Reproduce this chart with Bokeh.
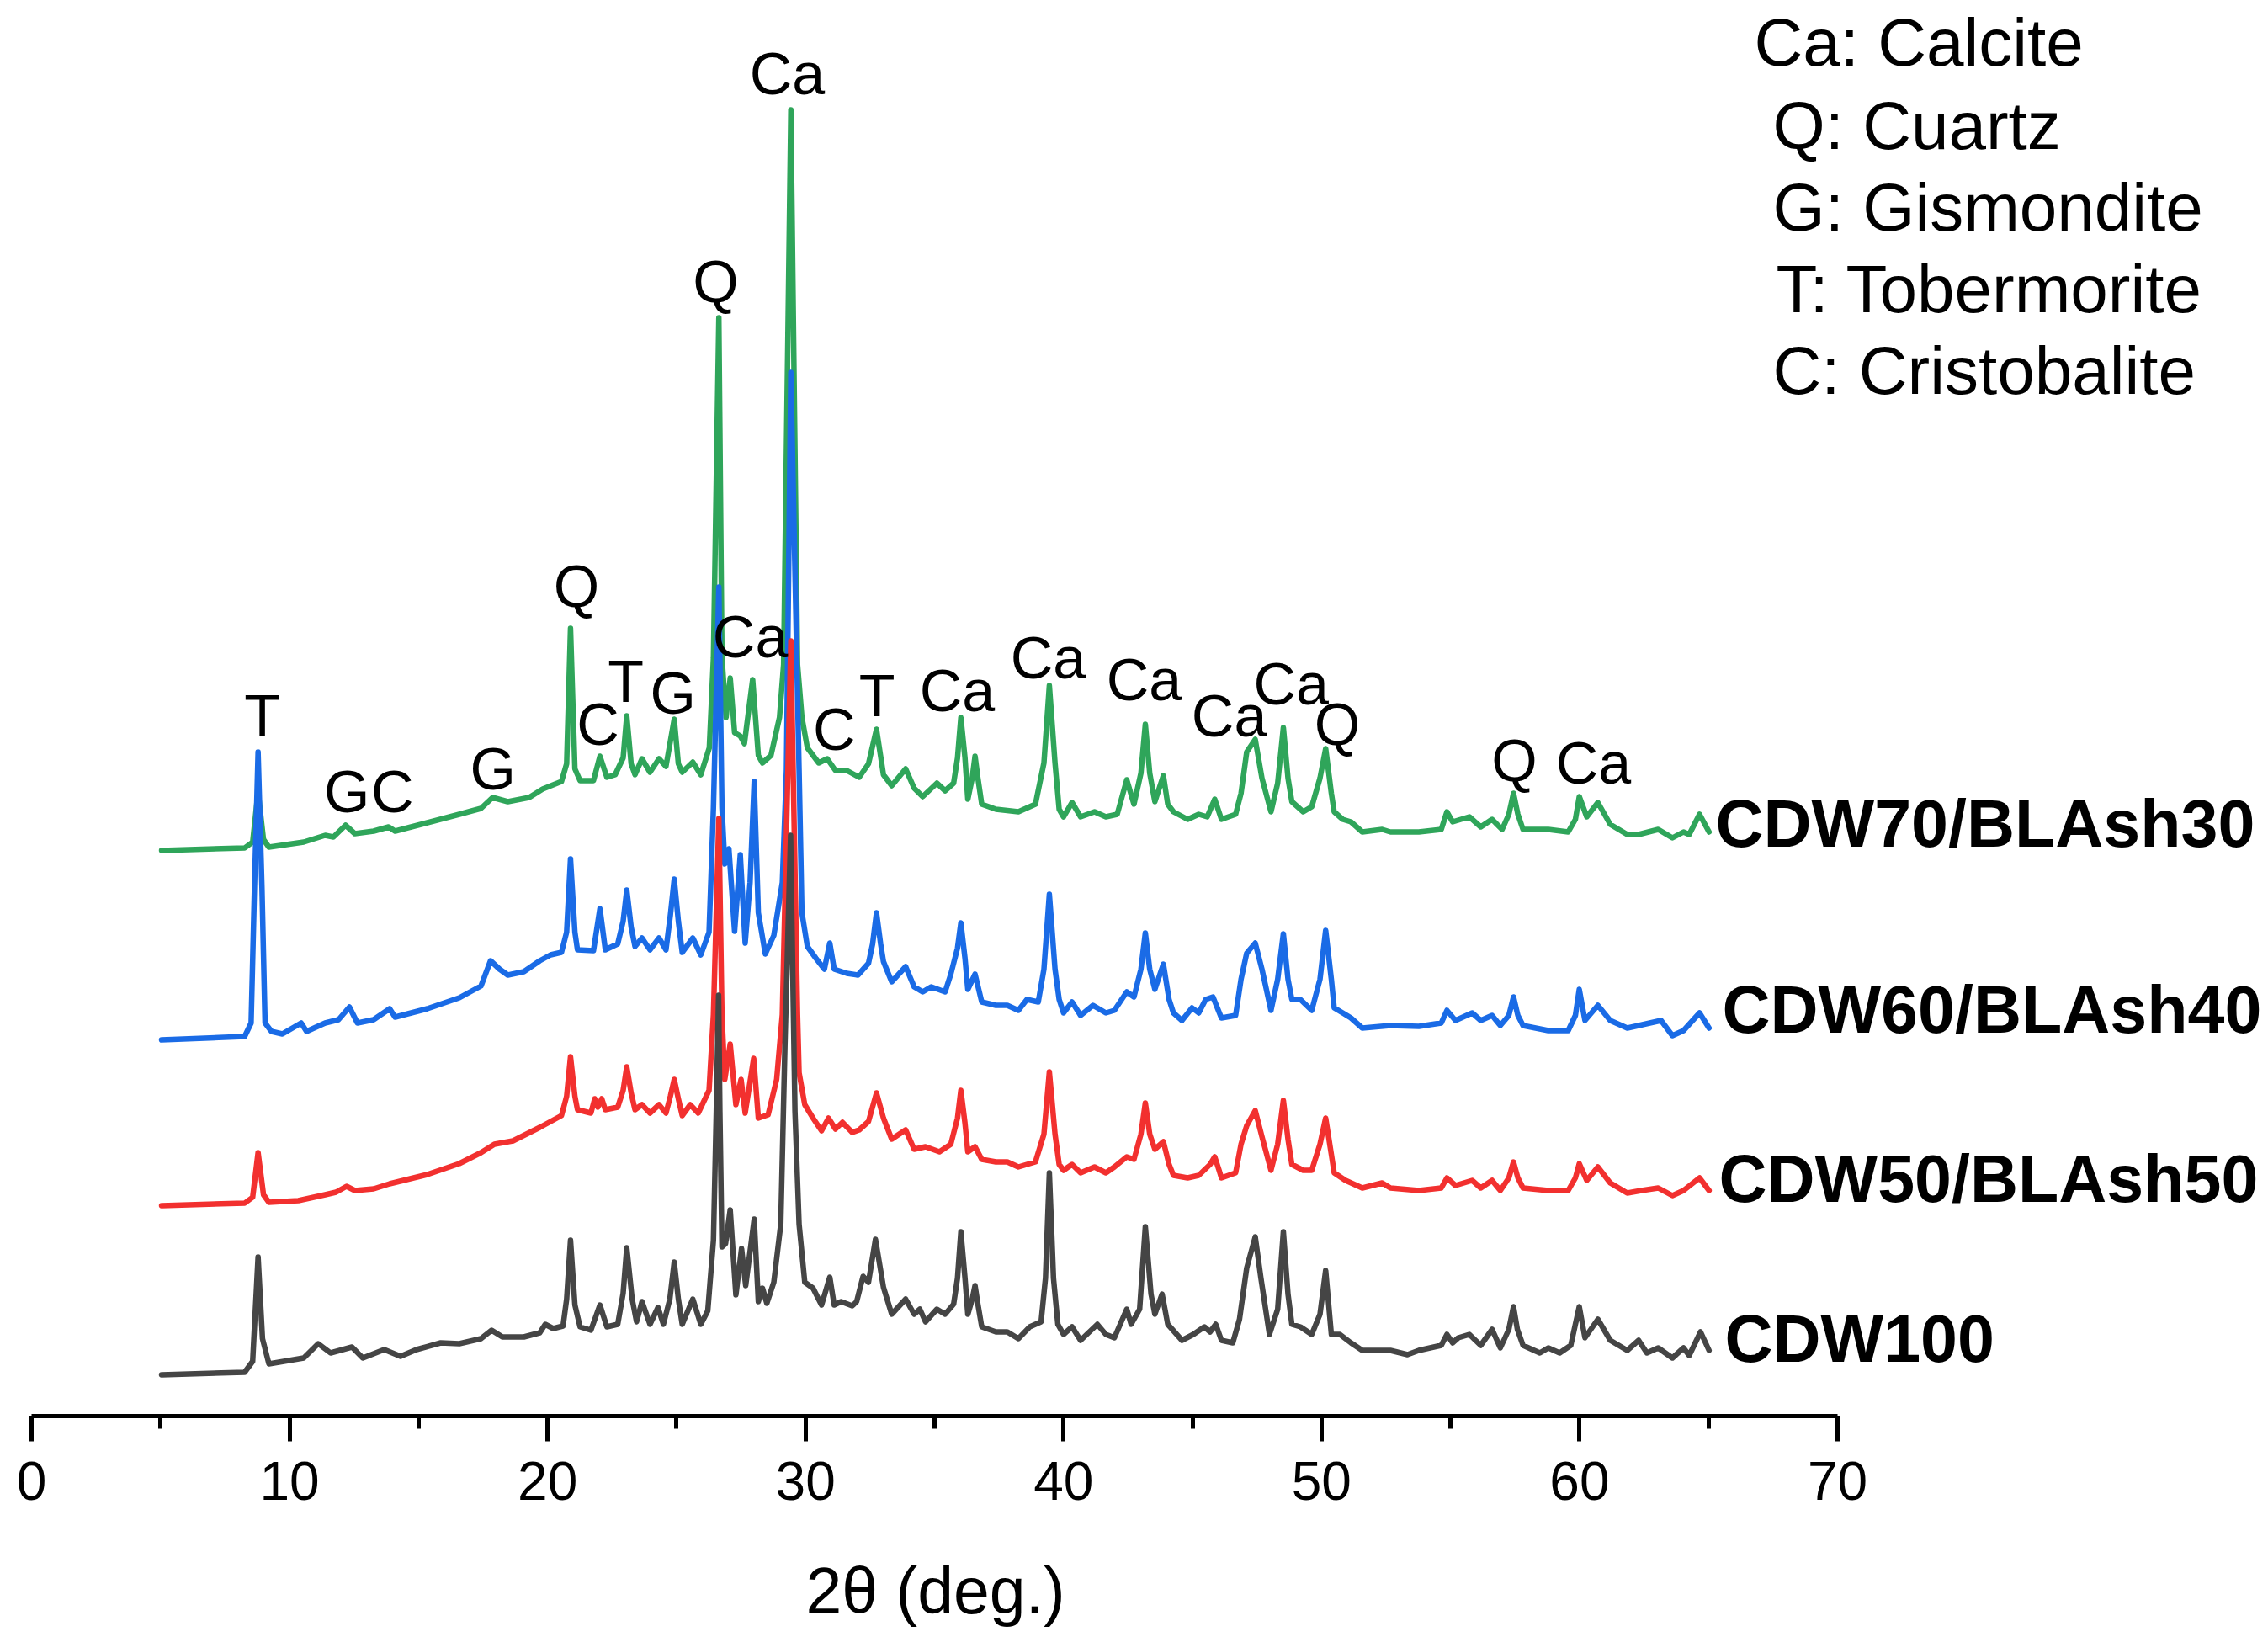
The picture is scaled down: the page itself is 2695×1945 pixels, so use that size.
from bokeh.plotting import figure
from bokeh.models import Range1d, FixedTicker, Title
from bokeh.core.properties import value
from bokeh.embed import file_html
from bokeh.resources import INLINE

# ---------------- data (2theta in degrees, stacked intensity in a.u.) ----------------
cdw100 = [(5.04,49),(8.26,52),(8.57,65),(8.78,189),(8.95,92),(9.2,62),(10.55,69),(11.11,86),(11.59,75),(12.42,82),
 (12.84,69),(13.67,79),(14.3,71),(14.92,79),(15.86,87),(16.58,86),(17.42,92),(17.83,102),(18.25,94),(19.08,94),
 (19.7,99),(19.91,109),(20.22,104),(20.6,107),(20.74,139),(20.89,209),(21.06,132),(21.26,106),(21.68,102),(22.03,132),
 (22.3,106),(22.72,109),(22.93,146),(23.07,200),(23.28,139),(23.45,112),(23.66,136),(23.97,109),(24.28,129),(24.49,109),
 (24.74,139),(24.91,183),(25.07,139),(25.22,109),(25.63,139),(25.94,109),(26.21,125),(26.43,209),(26.54,362),(26.63,500),
 (26.68,362),(26.76,201),(26.9,205),(27.08,245),(27.3,144),(27.52,199),(27.68,155),(28.01,234),(28.17,136),(28.33,152),
 (28.5,134),(28.77,159),(29.04,228),(29.2,439),(29.42,690),(29.59,362),(29.75,228),(29.97,159),(30.29,152),(30.62,132),
 (30.94,165),(31.11,132),(31.38,136),(31.81,131),(31.98,136),(32.23,166),(32.44,159),(32.71,210),(33.02,153),(33.34,121),
 (33.88,139),(34.21,121),(34.43,127),(34.65,112),(35.09,127),(35.41,121),(35.74,133),(35.89,164),(36.02,219),(36.18,164),
 (36.29,121),(36.46,139),(36.57,155),(36.68,133),(36.83,106),(37.38,100),(37.82,100),(38.25,92),(38.69,106),(39.13,112),
 (39.3,164),(39.45,289),(39.61,164),(39.78,109),(40.0,97),(40.33,106),(40.66,90),(41.31,109),(41.64,97),(41.97,93),
 (42.45,127),(42.62,109),(42.95,127),(43.17,225),(43.39,145),(43.54,121),(43.82,145),(44.04,109),(44.59,90),(45.03,97),
 (45.46,106),(45.68,100),(45.9,109),(46.12,90),(46.56,87),(46.82,115),(47.1,176),(47.43,213),(47.65,164),(47.98,97),
 (48.3,127),(48.52,219),(48.7,145),(48.85,109),(49.18,106),(49.62,97),(49.94,121),(50.16,173),(50.38,97),(50.71,97),
 (51.14,87),(51.58,78),(52.67,78),(53.33,73),(53.77,78),(54.64,84),(54.86,97),(55.08,87),(55.3,93),(55.73,97),
 (56.17,84),(56.61,103),(56.93,81),(57.26,103),(57.44,130),(57.59,103),(57.81,84),(58.46,75),(58.79,81),(59.23,75),
 (59.66,84),(59.99,130),(60.21,93),(60.71,115),(61.19,90),(61.85,78),(62.29,90),(62.61,75),(63.05,81),(63.6,69),
 (64.03,81),(64.25,72),(64.69,100),(65.02,78)]

cdw50_blash50 = [(5.04,250),(8.26,253),(8.57,260),(8.78,313),(8.99,263),(9.2,254),(10.34,256),(11.38,263),(11.8,266),(12.21,273),
 (12.53,268),(13.26,270),(13.88,276),(15.34,287),(16.58,300),(17.42,313),(17.94,323),(18.66,327),(19.7,343),(20.12,350),
 (20.54,357),(20.74,380),(20.89,427),(21.06,380),(21.16,364),(21.68,360),(21.83,377),(21.95,367),(22.1,377),(22.24,364),
 (22.72,367),(22.93,387),(23.07,415),(23.24,384),(23.39,364),(23.66,370),(23.97,360),(24.32,370),(24.59,360),(24.76,380),
 (24.91,400),(25.07,377),(25.22,357),(25.53,370),(25.84,360),(26.26,387),(26.43,477),(26.64,710),(26.76,477),(26.87,400),
 (27.08,442),(27.3,370),(27.5,400),(27.66,360),(27.99,425),(28.17,354),(28.55,358),(28.88,400),(29.1,477),(29.43,921),
 (29.69,477),(29.75,408),(29.97,370),(30.29,354),(30.62,339),(30.89,354),(31.16,341),(31.43,349),(31.81,337),(32.08,340),
 (32.44,350),(32.75,384),(33.02,354),(33.34,329),(33.88,340),(34.21,317),(34.65,320),(35.19,314),(35.63,323),(35.89,354),
 (36.02,387),(36.18,348),(36.29,314),(36.57,320),(36.83,305),(37.38,302),(37.82,302),(38.25,296),(38.91,302),(39.24,335),
 (39.45,409),(39.67,335),(39.83,299),(40.0,292),(40.33,299),(40.66,289),(41.2,296),(41.64,289),(41.97,296),(42.45,308),
 (42.73,305),(43.0,335),(43.17,372),(43.34,335),(43.54,317),(43.87,326),(44.09,299),(44.26,286),(44.81,283),(45.24,286),
 (45.68,299),(45.86,308),(46.03,292),(46.12,283),(46.67,289),(46.88,323),(47.1,345),(47.43,363),(47.69,332),(48.04,292),
 (48.3,323),(48.52,375),(48.7,329),(48.85,299),(49.29,292),(49.62,292),(49.94,323),(50.16,354),(50.38,311),(50.49,289),
 (50.93,280),(51.58,271),(52.35,277),(52.67,271),(53.77,268),(54.64,271),(54.86,283),(55.19,274),(55.84,280),(56.17,271),
 (56.61,280),(56.93,268),(57.26,283),(57.44,302),(57.61,283),(57.81,271),(58.79,268),(59.56,268),(59.84,283),(59.99,300),
 (60.28,280),(60.71,296),(61.19,277),(61.85,265),(62.4,268),(63.05,271),(63.6,262),(64.03,268),(64.65,283),(65.02,268)]

cdw60_blash40 = [(5.04,447),(8.26,451),(8.51,467),(8.64,628),(8.78,789),(8.93,628),(9.05,467),(9.3,457),(9.72,454),(10.45,467),
 (10.66,457),(11.38,467),(11.9,471),(12.32,486),(12.63,467),(13.26,471),(13.88,484),(14.09,474),(15.34,484),(16.58,497),
 (17.42,511),(17.79,541),(18.14,531),(18.46,524),(19.08,528),(19.7,541),(20.12,548),(20.54,551),(20.74,575),(20.89,662),
 (21.06,575),(21.16,554),(21.78,553),(22.03,603),(22.24,554),(22.72,561),(22.93,588),(23.07,625),(23.24,581),(23.39,558),
 (23.66,568),(23.97,554),(24.32,568),(24.59,554),(24.76,595),(24.91,638),(25.07,588),(25.22,551),(25.63,568),(25.94,548),
 (26.26,575),(26.43,723),(26.64,985),(26.76,723),(26.87,656),(27.03,674),(27.25,576),(27.47,667),(27.66,562),(27.85,634),
 (28.01,754),(28.17,598),(28.44,549),(28.77,571),(29.1,634),(29.26,768),(29.43,1240),(29.75,768),(29.86,598),(30.07,558),
 (30.4,544),(30.73,531),(30.94,562),(31.11,531),(31.6,526),(32.03,524),(32.44,538),(32.6,561),(32.75,598),(32.91,561),
 (33.02,540),(33.34,516),(33.88,534),(34.21,510),(34.54,504),(34.87,510),(35.41,504),(35.63,525),(35.89,556),(36.02,586),
 (36.18,544),(36.29,507),(36.57,525),(36.83,492),(37.38,488),(37.82,488),(38.25,482),(38.58,495),(39.02,492),(39.24,531),
 (39.45,620),(39.67,531),(39.83,495),(40.0,479),(40.33,492),(40.66,476),(41.14,488),(41.64,479),(41.97,482),(42.45,504),
 (42.73,498),(43.0,531),(43.17,574),(43.34,531),(43.54,507),(43.87,537),(44.09,495),(44.26,479),(44.59,470),(44.98,485),
 (45.24,479),(45.51,495),(45.79,498),(46.12,473),(46.67,476),(46.88,519),(47.1,550),(47.43,562),(47.69,531),(48.04,482),
 (48.3,519),(48.52,573),(48.7,519),(48.85,495),(49.18,495),(49.62,482),(49.94,519),(50.16,577),(50.38,519),(50.49,485),
 (50.82,479),(51.14,473),(51.58,461),(52.67,464),(53.77,463),(54.64,467),(54.86,482),(55.19,470),(55.84,479),(56.17,470),
 (56.61,476),(56.93,464),(57.26,476),(57.44,498),(57.61,476),(57.81,464),(58.79,458),(59.56,458),(59.84,476),(59.99,507),
 (60.21,470),(60.71,488),(61.19,470),(61.85,461),(62.29,464),(63.16,470),(63.6,452),(64.03,458),(64.65,479),(65.02,461)]

cdw70_blash30 = [(5.04,672),(8.26,675),(8.57,682),(8.78,742),(8.99,685),(9.2,676),(10.55,682),(11.38,690),(11.7,688),(12.17,702),
 (12.53,692),(13.26,695),(13.84,700),(14.09,695),(15.34,705),(16.58,715),(17.42,722),(17.87,735),(18.46,730),(19.29,735),
 (19.81,745),(20.54,754),(20.74,775),(20.89,936),(21.06,769),(21.26,755),(21.78,755),(22.03,784),(22.3,759),(22.62,762),
 (22.93,782),(23.07,832),(23.24,775),(23.39,762),(23.66,781),(23.97,765),(24.32,781),(24.59,772),(24.91,828),(25.07,775),
 (25.22,765),(25.63,777),(25.94,762),(26.27,794),(26.43,901),(26.64,1305),(26.76,901),(26.92,830),(27.08,877),(27.25,812),
 (27.47,808),(27.63,799),(27.95,875),(28.17,785),(28.33,776),(28.66,785),(28.99,830),(29.15,893),(29.43,1552),(29.69,893),
 (29.86,830),(30.07,794),(30.51,776),(30.84,781),(31.16,767),(31.6,767),(32.08,759),(32.44,775),(32.75,816),(33.02,762),
 (33.34,749),(33.88,769),(34.21,746),(34.54,736),(35.09,752),(35.41,743),(35.74,752),(35.89,782),(36.02,830),(36.18,782),
 (36.29,733),(36.46,758),(36.57,784),(36.68,758),(36.83,727),(37.38,721),(38.25,718),(38.91,727),(39.24,776),(39.45,868),
 (39.67,776),(39.83,721),(40.0,712),(40.33,729),(40.66,712),(41.2,718),(41.64,712),(42.08,715),(42.45,756),(42.73,727),
 (43.0,764),(43.17,822),(43.34,764),(43.54,730),(43.87,761),(44.04,727),(44.26,718),(44.81,709),(45.24,715),(45.57,712),
 (45.86,733),(46.12,709),(46.67,715),(46.88,740),(47.1,789),(47.43,804),(47.69,758),(48.04,718),(48.3,752),(48.52,818),
 (48.7,758),(48.85,730),(49.29,718),(49.62,724),(49.94,758),(50.16,793),(50.38,740),(50.49,718),(50.82,709),(51.14,706),
 (51.58,694),(52.35,697),(52.67,694),(53.77,694),(54.64,697),(54.86,718),(55.08,706),(55.73,712),(56.17,700),(56.61,709),
 (57.0,697),(57.26,715),(57.44,740),(57.61,715),(57.81,697),(58.79,697),(59.56,694),(59.84,709),(59.99,736),(60.28,712),
 (60.71,729),(61.19,703),(61.85,691),(62.29,691),(63.05,697),(63.6,687),(64.03,694),(64.25,691),(64.65,715),(65.02,694)]

series_names = ["CDW70/BLAsh30", "CDW60/BLAsh40", "CDW50/BLAsh50", "CDW100"]
series_colors = ["#2fa55a", "#1a6be6", "#f2302f", "#454545"]
series_label_x = [65.27, 65.53, 65.40, 65.63]
series_label_y = [704, 483, 282, 92]

phase_labels = ["T", "G", "C", "G", "Q", "C", "T", "G", "Q", "Ca", "Ca", "C", "T",
                "Ca", "Ca", "Ca", "Ca", "Ca", "Q", "Q", "Ca"]
phase_label_x = [8.94, 12.22, 13.99, 17.88, 21.12, 21.95, 23.03, 24.86, 26.52, 29.29, 27.86, 31.11, 32.77,
                 35.88, 39.40, 43.12, 46.42, 48.82, 50.61, 57.47, 60.54]
phase_label_y = [832, 742, 742, 769, 986, 822, 873, 859, 1348, 1595, 926, 816, 856,
                 862, 901, 875, 832, 870, 822, 779, 776]

legend_lines = ["Ca: Calcite", "Q: Cuartz", "G: Gismondite", "T: Tobermorite", "C: Cristobalite"]
legend_x = [66.77, 67.49, 67.49, 67.62, 67.49]
legend_y = [1632, 1533, 1436, 1339, 1242]

x_major_ticks = [0, 10, 20, 30, 40, 50, 60, 70]
x_minor_ticks = [5, 15, 25, 35, 45, 55, 65]
x_title = "2θ (deg.)"

# ---------------- figure ----------------
FONT = "Liberation Sans"
px_per_deg = 30.657
frame_w, frame_h = 2650, 1682

p = figure(frame_width=frame_w, frame_height=frame_h,
           x_range=Range1d(0, frame_w / px_per_deg), y_range=Range1d(0, frame_h),
           output_backend="svg", toolbar_location=None, y_axis_location=None,
           min_border_left=37, min_border_right=0, min_border_top=0, min_border_bottom=250)
p.grid.visible = False
p.outline_line_color = None
p.background_fill_color = "white"
p.border_fill_color = "white"

ax = p.xaxis[0]
ax.bounds = (0, 70)
ax.ticker = FixedTicker(ticks=x_major_ticks, minor_ticks=x_minor_ticks)
ax.axis_line_width = 5
ax.axis_line_color = "black"
ax.major_tick_line_width = 5
ax.major_tick_out = 30
ax.major_tick_in = 0
ax.minor_tick_line_width = 5
ax.minor_tick_out = 15
ax.minor_tick_in = 0
ax.major_label_text_font = FONT
ax.major_label_text_font_size = "64px"
ax.major_label_text_color = "black"
ax.major_label_standoff = 24

# axis title, placed under the 0-70 span of the axis (left edge ~ 920 px from the frame's left)
p.add_layout(Title(text=x_title, align="left", offset=920, text_font=FONT,
                   text_font_size="77px", text_font_style="normal", text_color="black",
                   standoff=120), "below")

# draw order: green, blue, red, black (black on top)
all_series = [cdw70_blash30, cdw60_blash40, cdw50_blash50, cdw100]
for data, color in zip(all_series, series_colors):
    xs = [d[0] for d in data]
    ys = [d[1] for d in data]
    p.line(xs, ys, line_color=color, line_width=6.5, line_join="round", line_cap="round")

p.text(x=phase_label_x, y=phase_label_y, text=phase_labels,
       text_font=value(FONT), text_font_size="70px", text_color="black",
       text_align="center", text_baseline="middle")

p.text(x=legend_x, y=legend_y, text=legend_lines,
       text_font=value(FONT), text_font_size="80px", text_color="black",
       text_align="left", text_baseline="middle")

p.text(x=series_label_x, y=series_label_y, text=series_names,
       text_font=value(FONT), text_font_size="79px", text_font_style="bold",
       text_color="black", text_align="left", text_baseline="middle")

open("out.html", "w").write(file_html(p, INLINE))
